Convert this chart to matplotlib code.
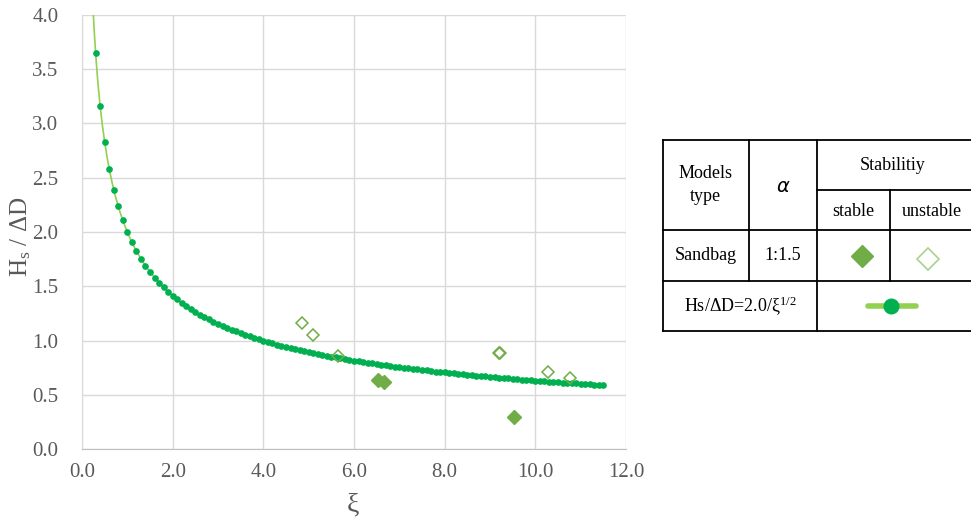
import numpy as np
import matplotlib
matplotlib.use('Agg')
import matplotlib.pyplot as plt

plt.rcParams['font.family'] = ['Liberation Serif', 'DejaVu Serif']
plt.rcParams['mathtext.fontset'] = 'custom'
plt.rcParams['mathtext.rm'] = 'Liberation Serif'
plt.rcParams['mathtext.it'] = 'Liberation Serif:italic'

# design curve Hs/dD = 2.0 / xi^0.5, dots every 0.1 from 0.3 to 11.5
xi_curve = np.round(np.arange(0.3, 11.55, 0.1), 1)
xi_line = np.linspace(0.25, 11.5, 400)
coef = 2.0

# sandbag tests, slope 1:1.5
xi_stable = [6.54, 6.67, 9.53]
h_stable = [0.637, 0.619, 0.30]
xi_unstable = [4.85, 5.10, 5.65, 9.20, 9.22, 10.28, 10.77]
h_unstable = [1.162, 1.048, 0.855, 0.891, 0.884, 0.714, 0.652]

xticks = [0, 2, 4, 6, 8, 10, 12]
yticks = [0, 0.5, 1.0, 1.5, 2.0, 2.5, 3.0, 3.5, 4.0]

W, H = 971, 524
fig = plt.figure(figsize=(W / 100, H / 100), dpi=100)
ax = fig.add_axes([82 / W, 1 - 449.3 / H, 544 / W, 434.5 / H])

ax.plot(xi_line, coef / np.sqrt(xi_line), color='#92D050', lw=1.2, zorder=2)
ax.plot(xi_curve, coef / np.sqrt(xi_curve), ls='none', marker='o', ms=3.8,
        color='#00B050', mec='#00B050', zorder=3)
ax.plot(xi_stable, h_stable, ls='none', marker='D', ms=7.4, color='#70AD47',
        mec='#70AD47', zorder=4)
ax.plot(xi_unstable, h_unstable, ls='none', marker='D', ms=6.5, mfc='none',
        mec='#70AD47', mew=1.1, zorder=4)

ax.set_xlim(0, 12)
ax.set_ylim(0, 4)
ax.set_xticks(xticks)
ax.set_yticks(yticks)
ax.set_xticklabels(['%.1f' % v for v in xticks])
ax.set_yticklabels(['%.1f' % v for v in yticks])
ax.tick_params(length=0, labelsize=15, colors='#595959')
ax.tick_params(axis='y', pad=17)
ax.tick_params(axis='x', pad=10)
ax.grid(True, color='#D9D9D9', lw=1)
ax.set_axisbelow(True)
for s in ['top', 'right']:
    ax.spines[s].set_visible(False)
ax.spines['bottom'].set_color('#BFBFBF')
ax.spines['left'].set_color('#D9D9D9')

fig.text(21 / W, 1 - 237 / H, r'H$_\mathrm{s}$ / ΔD', rotation=90, ha='center',
         va='center', fontsize=18, color='#595959')
fig.text(353 / W, 1 - 505 / H, 'ξ', ha='center', va='center', fontsize=20,
         color='#595959')

# legend table in pixel coordinates
tb = fig.add_axes([0, 0, 1, 1])
tb.set_xlim(0, W)
tb.set_ylim(H, 0)
tb.axis('off')
kw = dict(color='black', lw=1.3, solid_capstyle='projecting')
tb.plot([663, 975], [139.5, 139.5], **kw)
tb.plot([663, 975], [331, 331], **kw)
tb.plot([663, 975], [230, 230], **kw)
tb.plot([663, 975], [280.5, 280.5], **kw)
tb.plot([817, 975], [189.5, 189.5], **kw)
tb.plot([663, 663], [139.5, 331], **kw)
tb.plot([748.5, 748.5], [139.5, 280.5], **kw)
tb.plot([816.5, 816.5], [139.5, 331], **kw)
tb.plot([890, 890], [189.5, 280.5], **kw)

fs = 13
tb.text(705.5, 185, 'Models\ntype', ha='center', va='center', fontsize=fs,
        linespacing=1.4)
tb.text(783, 186, 'α', ha='center', va='center', fontsize=14, style='italic',
        family='DejaVu Sans')
tb.text(893, 165, 'Stabilitiy', ha='center', va='center', fontsize=fs)
tb.text(853, 211, 'stable', ha='center', va='center', fontsize=fs)
tb.text(932, 211, 'unstable', ha='center', va='center', fontsize=fs)
tb.text(705.5, 256, 'Sandbag', ha='center', va='center', fontsize=fs)
tb.text(783, 256, '1:1.5', ha='center', va='center', fontsize=fs)
tb.plot([862], [256], marker='D', ms=11.5, color='#70AD47', mec='#70AD47')
tb.plot([928], [259], marker='D', ms=11.5, mfc='none', mec='#A9D18E', mew=1.2)
tb.text(740, 306, r'Hs/ΔD=2.0/ξ$^{1/2}$', ha='center', va='center', fontsize=fs)
tb.plot([868, 916], [306, 306], color='#92D050', lw=4, solid_capstyle='round')
tb.plot([891], [306], marker='o', ms=10.5, color='#00B050', mec='#00B050')

fig.savefig('out.png', dpi=100)
